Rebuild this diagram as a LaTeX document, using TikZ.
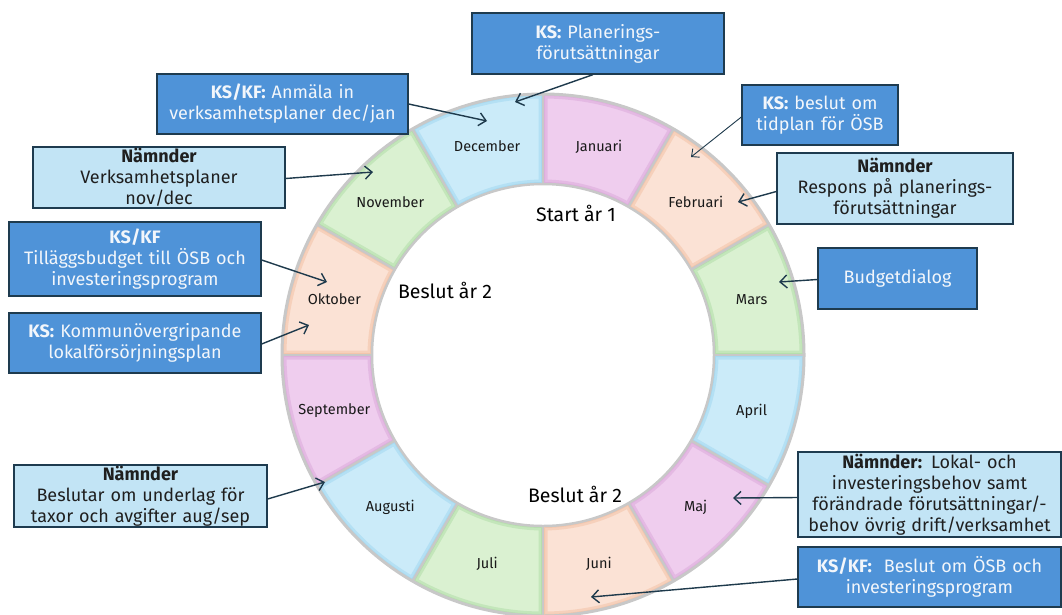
\documentclass[tikz,border=0pt]{standalone}
\usepackage{fontspec}
\setmainfont{Fira Sans}
\usetikzlibrary{arrows.meta}
\definecolor{dkbox}{HTML}{4F93D8}
\definecolor{ltbox}{HTML}{C2E4F5}
\definecolor{edge}{HTML}{1E3B4F}
\definecolor{arr}{HTML}{1E3A4C}
\definecolor{dktext}{HTML}{F2F6FB}
\definecolor{pinkF}{HTML}{EFCDEE}\definecolor{pinkG}{HTML}{D7A2D7}
\definecolor{peachF}{HTML}{FBE2D5}\definecolor{peachG}{HTML}{F2BC9C}
\definecolor{greenF}{HTML}{DAF1D1}\definecolor{greenG}{HTML}{A8D99F}
\definecolor{blueF}{HTML}{CBEBF9}\definecolor{blueG}{HTML}{98D3EF}
\definecolor{ringgray}{HTML}{C8C8C8}
\begin{document}
\begin{tikzpicture}[x=1pt,y=-1pt,
  dk/.style={draw=edge, line width=1.3pt, fill=dkbox, text=dktext, align=center, inner sep=0pt, font=\fontsize{18}{21}\selectfont},
  lt/.style={draw=edge, line width=1.3pt, fill=ltbox, text=black!88, align=center, inner sep=0pt, font=\fontsize{18}{21}\selectfont},
  conn/.style={draw=arr, line width=1.4pt, -{Straight Barb[length=7pt,width=13pt]}},
  thinconn/.style={draw=arr, line width=0.9pt, -{Straight Barb[length=6pt,width=11pt]}},
  month/.style={font=\fontsize{14.5}{16}\selectfont, text=black!90},
  midtext/.style={font=\fontsize{19.5}{22}\selectfont, text=black}]
\path[use as bounding box, fill=white] (0,0) rectangle (1062,614);

% ---- ring ----
\begin{scope}[shift={(543,355)}, yscale=-1]
  \foreach \i/\fc/\gc in {0/pinkF/pinkG,1/peachF/peachG,2/greenF/greenG,3/blueF/blueG,
                          4/pinkF/pinkG,5/peachF/peachG,6/greenF/greenG,7/blueF/blueG,
                          8/pinkF/pinkG,9/peachF/peachG,10/greenF/greenG,11/blueF/blueG}{
    \pgfmathsetmacro\aa{90-30*\i}
    \pgfmathsetmacro\ab{60-30*\i}
    \begin{scope}
      \clip (\aa:261) arc[start angle=\aa, end angle=\ab, radius=261]
            -- (\ab:171) arc[start angle=\ab, end angle=\aa, radius=171] -- cycle;
      \fill[\fc] (0,0) circle (265);
      \draw[\gc, line width=9pt, opacity=0.45]
            (\aa:261) arc[start angle=\aa, end angle=\ab, radius=261]
            -- (\ab:171) arc[start angle=\ab, end angle=\aa, radius=171] -- cycle;
      \draw[\gc, line width=4pt, opacity=0.5]
            (\aa:261) arc[start angle=\aa, end angle=\ab, radius=261]
            -- (\ab:171) arc[start angle=\ab, end angle=\aa, radius=171] -- cycle;
    \end{scope}
  }
  \foreach \a in {0,30,...,330}{
    \draw[ringgray, line width=2.5pt] (\a:171) -- (\a:261);
  }
  \draw[ringgray, line width=3pt] (0,0) circle (261);
  \draw[ringgray, line width=2.5pt] (0,0) circle (171);

  \node[month] (mJan) at (75:216) {Januari};
  \node[month] (mFeb) at (45:216) {Februari};
  \node[month] (mMar) at (15:216) {Mars};
  \node[month] (mApr) at (-15:216) {April};
  \node[month] (mMaj) at (-45:216) {Maj};
  \node[month] (mJun) at (-75:216) {Juni};
  \node[month] (mJul) at (-105:216) {Juli};
  \node[month] (mAug) at (-135:216) {Augusti};
  \node[month] (mSep) at (-165:216) {September};
  \node[month] (mOkt) at (165:216) {Oktober};
  \node[month] (mNov) at (135:216) {November};
  \node[month] (mDec) at (105:216) {December};
\end{scope}

\node[midtext] (start1) at (576,213) {Start år 1};
\node[midtext] (beslut2a) at (445,290) {Beslut år 2};
\node[midtext] (beslut2b) at (575,494) {Beslut år 2};

% ---- boxes ----
\node[dk, minimum width=252pt, minimum height=61pt, text width=250pt] (b1) at (598,43.5)
  {\textbf{KS:} Planerings-\\förutsättningar};
\node[dk, minimum width=251pt, minimum height=60pt, text width=249pt] (b2) at (282.5,104)
  {\textbf{KS/KF:} Anmäla in\\verksamhetsplaner dec/jan};
\node[dk, minimum width=156pt, minimum height=60pt, text width=154pt] (b3) at (820,115)
  {\textbf{KS:} beslut om\\tidplan för ÖSB};
\node[lt, minimum width=236pt, minimum height=71pt, text width=234pt] (b4) at (895,188.5)
  {\textbf{Nämnder}\\Respons på planerings-\\förutsättningar};
\node[dk, minimum width=159pt, minimum height=61pt, text width=157pt] (b5) at (897.5,278.5)
  {Budgetdialog};
\node[lt, minimum width=252pt, minimum height=61pt, text width=250pt] (b6) at (159,177.5)
  {\textbf{Nämnder}\\Verksamhetsplaner\\nov/dec};
\node[dk, minimum width=252pt, minimum height=74pt, text width=250pt] (b7) at (135,259)
  {\textbf{KS/KF}\\Tilläggsbudget till ÖSB och\\investeringsprogram};
\node[dk, minimum width=252pt, minimum height=60pt, text width=250pt] (b8) at (135,343)
  {\textbf{KS:} Kommunövergripande\\lokalförsörjningsplan};
\node[lt, minimum width=253pt, minimum height=62pt, text width=251pt] (b9) at (140.5,496)
  {\textbf{Nämnder}\\Beslutar om underlag för\\taxor och avgifter aug/sep};
\node[lt, minimum width=263pt, minimum height=85pt, text width=261pt] (b10) at (929.5,494.5)
  {\textbf{Nämnder:} Lokal- och\\investeringsbehov samt\\förändrade förutsättningar/-\\behov övrig drift/verksamhet};
\node[dk, minimum width=263pt, minimum height=60pt, text width=261pt] (b11) at (929.5,577)
  {\textbf{KS/KF:}\ \ Beslut om ÖSB och\\investeringsprogram};

% ---- arrow targets ----
\coordinate (t1) at (515,102);
\coordinate (t2) at (487,121);
\coordinate (t3) at (691,157);
\coordinate (t4) at (738,202);
\coordinate (t5) at (779,282);
\coordinate (t6) at (373,172);
\coordinate (t7) at (327,282);
\coordinate (t8) at (309,325);
\coordinate (t9) at (325,482);
\coordinate (t10) at (733,498);
\coordinate (t11) at (591,597);

% ---- connectors ----
\draw[conn] ([xshift=-5pt]b1.south) -- (t1);
\draw[conn] (b2.east) -- (t2);
\draw[thinconn] ([yshift=-2pt]b3.west) -- (t3);
\draw[conn] ([yshift=-3pt]b4.west) -- (t4);
\draw[conn] ([yshift=-1pt]b5.west) -- (t5);
\draw[conn] ([yshift=-1pt]b6.east) -- (t6);
\draw[conn] ([yshift=-1pt]b7.east) -- (t7);
\draw[conn] ([yshift=-1pt]b8.east) -- (t8);
\draw[conn] ([yshift=-3pt]b9.east) -- (t9);
\draw[conn] ([yshift=-3pt]b10.west) -- (t10);
\draw[conn] ([yshift=-2pt]b11.west) -- (t11);
\end{tikzpicture}
\end{document}
